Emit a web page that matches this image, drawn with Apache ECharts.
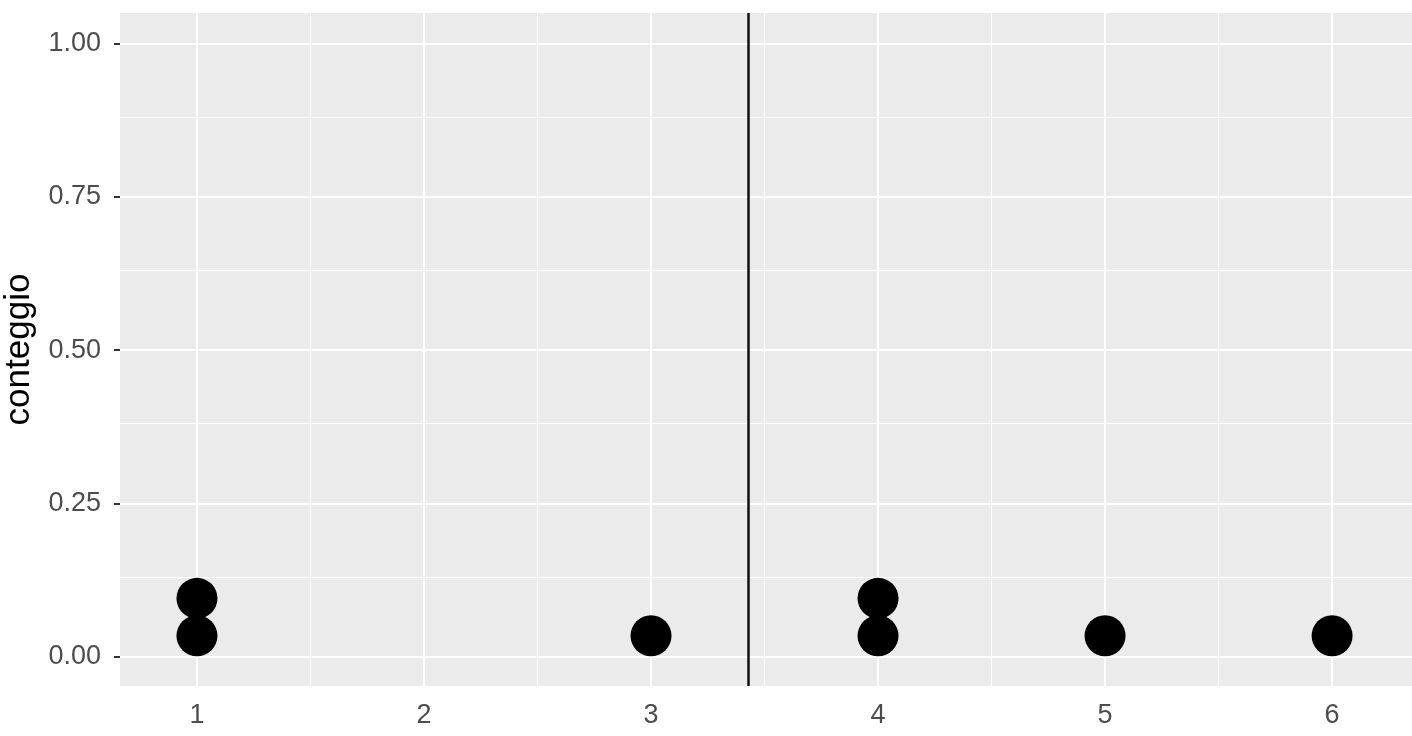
<!DOCTYPE html>
<html>
<head>
<meta charset="utf-8">
<script src="https://cdn.jsdelivr.net/npm/echarts@6/dist/echarts.min.js"></script>
<style>
  html, body { margin: 0; padding: 0; background: #fff; }
  #chart { width: 1412px; height: 736px; }
</style>
</head>
<body>
<div id="chart"></div>
<script>
// dati
var valori = [1, 1, 3, 4, 4, 5, 6];
var altezze = [0.034, 0.095, 0.034, 0.034, 0.095, 0.034, 0.034];

var xTicks = [1, 2, 3, 4, 5, 6];
var xMinor = [1.5, 2.5, 3.5, 4.5, 5.5];
var yTicks = [0, 0.25, 0.5, 0.75, 1];
var yMinor = [0.125, 0.375, 0.625, 0.875];

var myChart = echarts.init(document.getElementById('chart'));

var punti = [];
for (var i = 0; i < valori.length; i++) {
    punti.push([valori[i], altezze[i]]);
}

// media dei valori
var media = 0;
for (var i = 0; i < valori.length; i++) media += valori[i];
media = media / valori.length;

var righe = [];
xMinor.forEach(function (v) { righe.push({xAxis: v, lineStyle: {width: 1}}); });
yMinor.forEach(function (v) { righe.push({yAxis: v, lineStyle: {width: 1}}); });
xTicks.forEach(function (v) { righe.push({xAxis: v, lineStyle: {width: 2}}); });
yTicks.forEach(function (v) { righe.push({yAxis: v, lineStyle: {width: 2}}); });

var tickLabel = {color: '#4D4D4D', fontSize: 27, fontFamily: 'Liberation Sans'};

var option = {
    animation: false,
    grid: {
        left: 120, right: 0, top: 13, bottom: 50,
        outerBoundsMode: 'none',
        containLabel: false,
        show: true, backgroundColor: '#EBEBEB', borderWidth: 0
    },
    xAxis: {
        type: 'value',
        min: 0.661,
        max: 6.352,
        axisLine: {show: false},
        axisTick: {show: true, length: 6, customValues: xTicks, lineStyle: {color: '#333', width: 2}},
        axisLabel: Object.assign({customValues: xTicks, margin: 16}, tickLabel),
        splitLine: {show: false}
    },
    yAxis: {
        type: 'value',
        min: -0.048,
        max: 1.05,
        name: 'conteggio',
        nameLocation: 'middle',
        nameRotate: 90,
        nameGap: 83,
        nameTextStyle: {color: '#000', fontSize: 35, fontFamily: 'Liberation Sans'},
        axisLine: {show: false},
        axisTick: {show: true, length: 6, customValues: yTicks, lineStyle: {color: '#333', width: 2}},
        axisLabel: Object.assign({
            customValues: yTicks, margin: 19,
            formatter: function (v) { return v.toFixed(2); }
        }, tickLabel),
        splitLine: {show: false}
    },
    series: [
        {
            type: 'scatter',
            data: [],
            z: 1,
            markLine: {
                silent: true,
                symbol: ['none', 'none'],
                label: {show: false},
                z: 1,
                lineStyle: {color: '#FFFFFF', type: 'solid'},
                data: righe
            }
        },
        {
            type: 'scatter',
            data: punti,
            symbolSize: 41,
            z: 5,
            itemStyle: {color: '#000000', opacity: 1}
        },
        {
            type: 'scatter',
            data: [],
            z: 6,
            markLine: {
                silent: true,
                symbol: ['none', 'none'],
                label: {show: false},
                z: 6,
                lineStyle: {color: '#111111', width: 2.5, type: 'solid'},
                data: [{xAxis: media}]
            }
        }
    ]
};

myChart.setOption(option);
</script>
</body>
</html>
